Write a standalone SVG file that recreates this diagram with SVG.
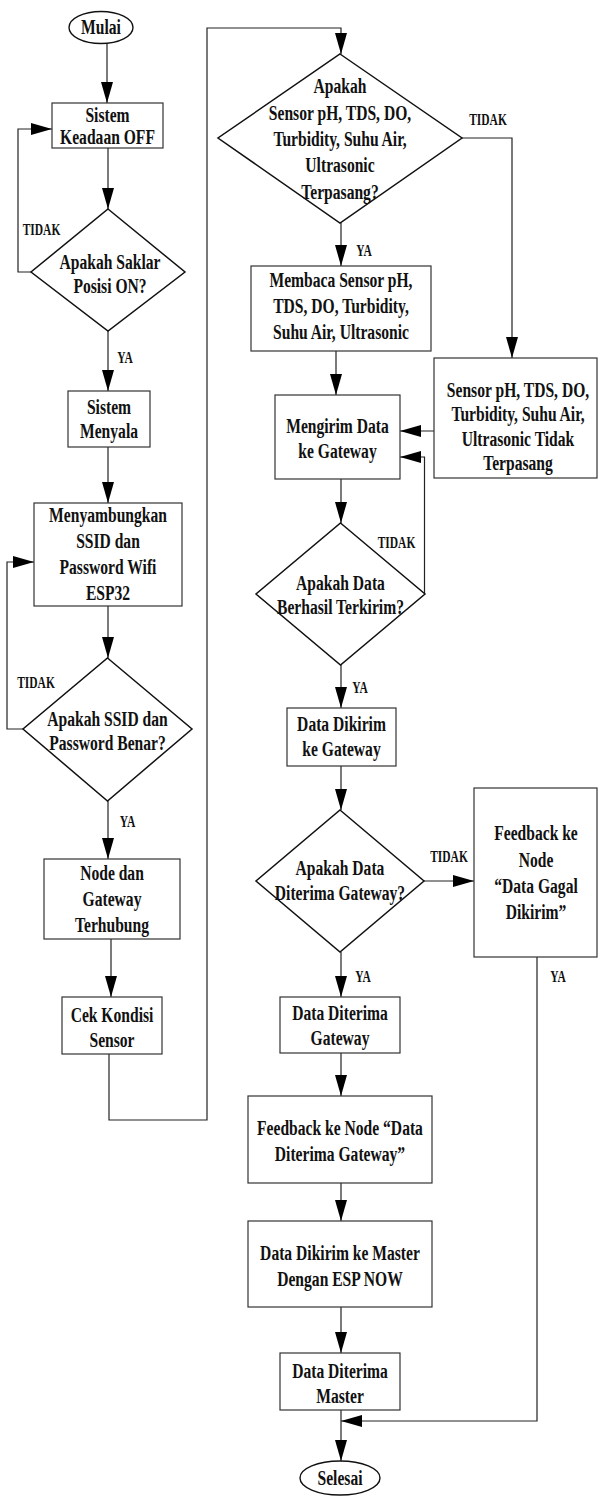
<svg xmlns="http://www.w3.org/2000/svg" width="598" height="1496" viewBox="0 0 598 1496">
<style>
.box{fill:#fff;stroke:#333;stroke-width:1.2}
.dia{fill:#fff;stroke:#111;stroke-width:1.5}
.term{fill:#fff;stroke:#111;stroke-width:1.4}
.c{fill:none;stroke:#222;stroke-width:1.2}
.t{font-family:"Liberation Serif","Times New Roman",serif;font-weight:bold;font-size:20px;text-anchor:middle;fill:#111;transform-box:fill-box;transform-origin:center;transform:scaleX(0.78)}
.l{font-family:"Liberation Serif","Times New Roman",serif;font-weight:bold;font-size:16px;text-anchor:middle;fill:#111;transform-box:fill-box;transform-origin:center;transform:scaleX(0.72)}
</style>
<defs>
<marker id="ah" markerUnits="userSpaceOnUse" markerWidth="21" markerHeight="12" refX="21" refY="6" orient="auto">
<path d="M0,0 L21,6 L0,12 Z" fill="#000"/>
</marker>
</defs>
<rect width="598" height="1496" fill="#fff"/>

<g id="connectors">
<path class="c" d="M107,43 V103" marker-end="url(#ah)"/>
<path class="c" d="M108,148 V209" marker-end="url(#ah)"/>
<path class="c" d="M31,272 H18 V129 H52" marker-end="url(#ah)"/>
<path class="c" d="M108,331 V391" marker-end="url(#ah)"/>
<path class="c" d="M108,447 V503" marker-end="url(#ah)"/>
<path class="c" d="M108,606 V658" marker-end="url(#ah)"/>
<path class="c" d="M23,729 H7 V562 H34" marker-end="url(#ah)"/>
<path class="c" d="M108,801 V859" marker-end="url(#ah)"/>
<path class="c" d="M111,939 V997" marker-end="url(#ah)"/>
<path class="c" d="M109,1054 V1120 H207 V28 H341 V54" marker-end="url(#ah)"/>
<path class="c" d="M462,138 H512 V358" marker-end="url(#ah)"/>
<path class="c" d="M341,223 V266" marker-end="url(#ah)"/>
<path class="c" d="M336,351 V395" marker-end="url(#ah)"/>
<path class="c" d="M434,431 H400" marker-end="url(#ah)"/>
<path class="c" d="M341,479 V523" marker-end="url(#ah)"/>
<path class="c" d="M425,594 H424.5 V457 H400" marker-end="url(#ah)"/>
<path class="c" d="M341,665 V708" marker-end="url(#ah)"/>
<path class="c" d="M341,766 V810" marker-end="url(#ah)"/>
<path class="c" d="M424,881 H474" marker-end="url(#ah)"/>
<path class="c" d="M341,952 V997" marker-end="url(#ah)"/>
<path class="c" d="M341,1053 V1096" marker-end="url(#ah)"/>
<path class="c" d="M341,1183 V1221" marker-end="url(#ah)"/>
<path class="c" d="M341,1307 V1353" marker-end="url(#ah)"/>
<path class="c" d="M341,1410 V1461" marker-end="url(#ah)"/>
<path class="c" d="M537,957 V1421 H341" marker-end="url(#ah)"/>
</g>

<g id="edge-labels">
<text class="l" x="41.5" y="235">TIDAK</text>
<text class="l" x="125" y="363">YA</text>
<text class="l" x="36" y="688">TIDAK</text>
<text class="l" x="127.5" y="827">YA</text>
<text class="l" x="488" y="125">TIDAK</text>
<text class="l" x="364" y="256">YA</text>
<text class="l" x="396.5" y="548">TIDAK</text>
<text class="l" x="360" y="693">YA</text>
<text class="l" x="449" y="862">TIDAK</text>
<text class="l" x="363" y="982">YA</text>
<text class="l" x="558" y="982">YA</text>
</g>

<g id="mulai">
<ellipse class="term" cx="101" cy="27.5" rx="32" ry="16"/>
<text class="t" x="101" y="34">Mulai</text>
</g>

<g id="sistem-off">
<rect class="box" x="52" y="103" width="111" height="45"/>
<text class="t" x="107.5" y="122">Sistem</text>
<text class="t" x="107.5" y="144.5">Keadaan OFF</text>
</g>

<g id="cek-saklar">
<polygon class="dia" points="108,209 185,272 108,331 31,272"/>
<text class="t" x="110" y="269">Apakah Saklar</text>
<text class="t" x="110" y="293">Posisi ON?</text>
</g>

<g id="sistem-menyala">
<rect class="box" x="68" y="391" width="82" height="56"/>
<text class="t" x="109" y="414">Sistem</text>
<text class="t" x="109" y="438">Menyala</text>
</g>

<g id="menyambungkan">
<rect class="box" x="34" y="503" width="148" height="103"/>
<text class="t" x="108" y="522">Menyambungkan</text>
<text class="t" x="108" y="548">SSID dan</text>
<text class="t" x="108" y="574">Password Wifi</text>
<text class="t" x="108" y="600">ESP32</text>
</g>

<g id="cek-ssid">
<polygon class="dia" points="107.5,658 192,729 107.5,801 23,729"/>
<text class="t" x="107.5" y="726">Apakah  SSID dan</text>
<text class="t" x="107.5" y="750">Password Benar?</text>
</g>

<g id="terhubung">
<rect class="box" x="44" y="859" width="136" height="80"/>
<text class="t" x="112" y="880">Node dan</text>
<text class="t" x="112" y="906">Gateway</text>
<text class="t" x="112" y="932">Terhubung</text>
</g>

<g id="cek-kondisi">
<rect class="box" x="62" y="997" width="100" height="57"/>
<text class="t" x="112" y="1022">Cek Kondisi</text>
<text class="t" x="112" y="1047">Sensor</text>
</g>

<g id="cek-sensor">
<polygon class="dia" points="340,54 462,138 340,223 218,138"/>
<text class="t" x="340" y="93">Apakah</text>
<text class="t" x="340" y="120">Sensor pH, TDS, DO,</text>
<text class="t" x="340" y="146">Turbidity, Suhu Air,</text>
<text class="t" x="340" y="172">Ultrasonic</text>
<text class="t" x="340" y="199">Terpasang?</text>
</g>

<g id="membaca-sensor">
<rect class="box" x="251" y="266" width="180" height="85"/>
<text class="t" x="341" y="287">Membaca Sensor pH,</text>
<text class="t" x="341" y="313">TDS, DO, Turbidity,</text>
<text class="t" x="341" y="339">Suhu Air, Ultrasonic</text>
</g>

<g id="sensor-tidak-terpasang">
<rect class="box" x="434" y="358" width="163" height="120"/>
<text class="t" x="518" y="397">Sensor pH, TDS, DO,</text>
<text class="t" x="518" y="421">Turbidity, Suhu Air,</text>
<text class="t" x="518" y="446">Ultrasonic Tidak</text>
<text class="t" x="518" y="470">Terpasang</text>
</g>

<g id="mengirim-data">
<rect class="box" x="275" y="395" width="125" height="84"/>
<text class="t" x="337.5" y="433">Mengirim Data</text>
<text class="t" x="337.5" y="458">ke Gateway</text>
</g>

<g id="cek-terkirim">
<polygon class="dia" points="340.5,523 425,594 340.5,665 256,594"/>
<text class="t" x="340.5" y="590">Apakah Data</text>
<text class="t" x="340.5" y="614">Berhasil Terkirim?</text>
</g>

<g id="data-dikirim">
<rect class="box" x="287" y="708" width="109" height="58"/>
<text class="t" x="341.5" y="731">Data Dikirim</text>
<text class="t" x="341.5" y="756">ke Gateway</text>
</g>

<g id="cek-diterima">
<polygon class="dia" points="340,810 424,881 340,952 256,881"/>
<text class="t" x="340" y="875">Apakah Data</text>
<text class="t" x="340" y="900">Diterima Gateway?</text>
</g>

<g id="feedback-gagal">
<rect class="box" x="474" y="788" width="123" height="169"/>
<text class="t" x="536" y="840">Feedback ke</text>
<text class="t" x="536" y="867">Node</text>
<text class="t" x="536" y="893">“Data Gagal</text>
<text class="t" x="536" y="919">Dikirim”</text>
</g>

<g id="data-diterima-gateway">
<rect class="box" x="280" y="997" width="120" height="56"/>
<text class="t" x="340" y="1020">Data Diterima</text>
<text class="t" x="340" y="1045">Gateway</text>
</g>

<g id="feedback-diterima">
<rect class="box" x="248" y="1096" width="184" height="87"/>
<text class="t" x="340" y="1135">Feedback ke Node “Data</text>
<text class="t" x="340" y="1161">Diterima Gateway”</text>
</g>

<g id="kirim-master">
<rect class="box" x="248" y="1221" width="184" height="86"/>
<text class="t" x="340" y="1260">Data Dikirim ke Master</text>
<text class="t" x="340" y="1286">Dengan ESP NOW</text>
</g>

<g id="diterima-master">
<rect class="box" x="280" y="1353" width="120" height="57"/>
<text class="t" x="340" y="1378">Data Diterima</text>
<text class="t" x="340" y="1403">Master</text>
</g>

<g id="selesai">
<ellipse class="term" cx="340" cy="1478" rx="40" ry="17"/>
<text class="t" x="340" y="1485">Selesai</text>
</g>
</svg>
